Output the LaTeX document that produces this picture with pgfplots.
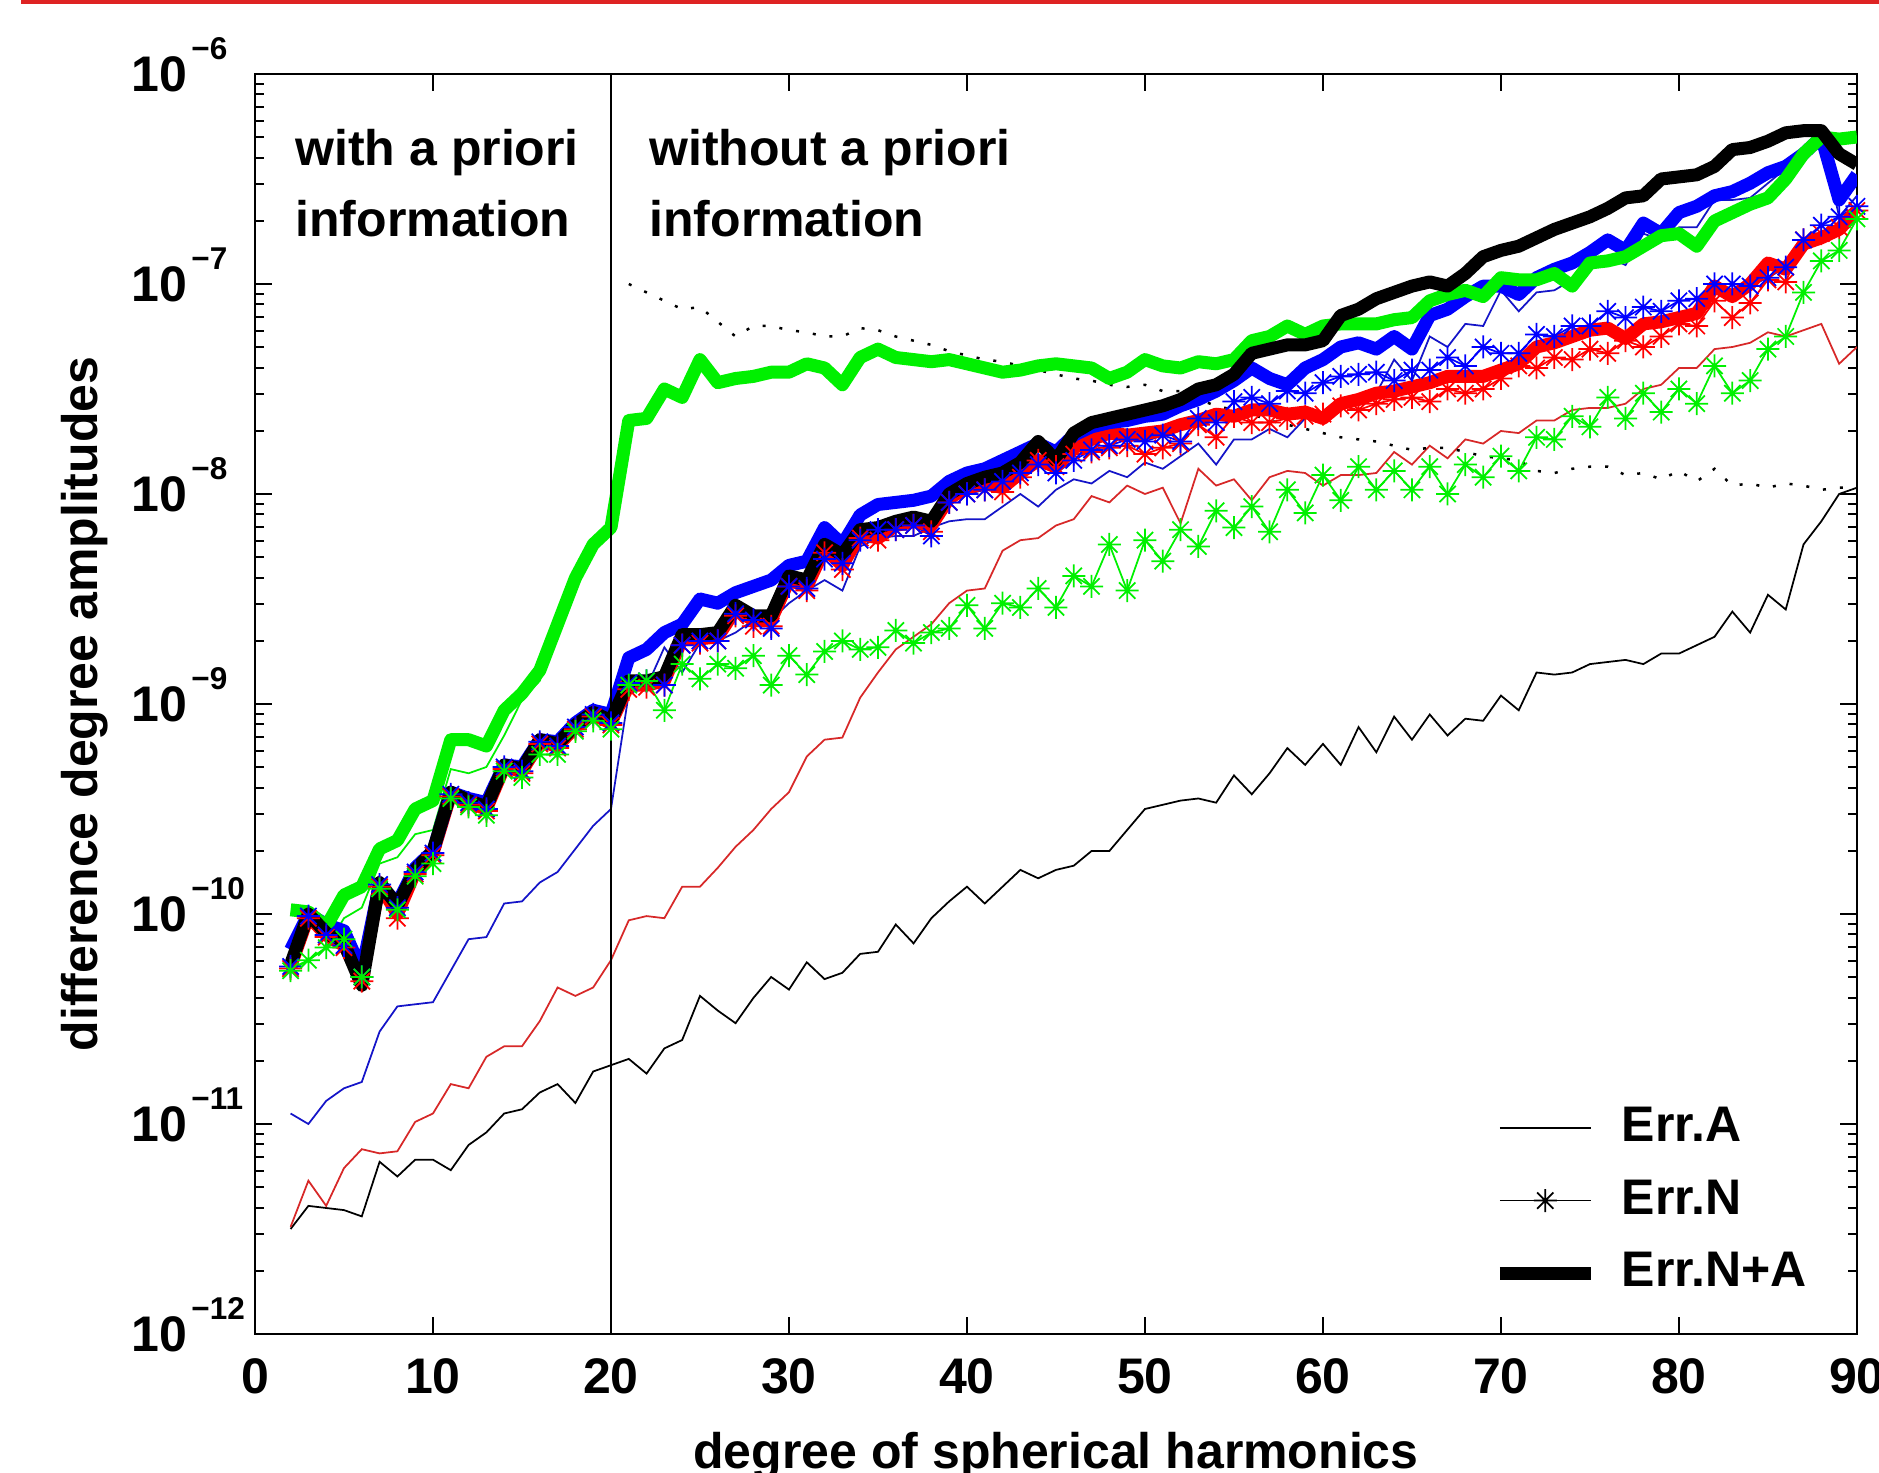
\documentclass[border=0pt]{standalone}
\usepackage{pgfplots}
\pgfplotsset{compat=1.18}
\usepackage{pgfplotstable}
\usepackage{fontspec}
\setmainfont{Liberation Sans}
\definecolor{mgreen}{RGB}{0,240,0}
\definecolor{mblue}{RGB}{0,0,255}
\definecolor{mred}{RGB}{255,0,0}
\definecolor{tred}{RGB}{215,40,40}
\definecolor{tblue}{RGB}{20,20,200}
\definecolor{topred}{RGB}{222,35,35}

\pgfdeclareplotmark{mstar}{%
  \pgfpathmoveto{\pgfqpoint{-\pgfplotmarksize}{0pt}}%
  \pgfpathlineto{\pgfqpoint{\pgfplotmarksize}{0pt}}%
  \pgfpathmoveto{\pgfqpoint{0pt}{-\pgfplotmarksize}}%
  \pgfpathlineto{\pgfqpoint{0pt}{\pgfplotmarksize}}%
  \pgfpathmoveto{\pgfqpoint{-0.7071\pgfplotmarksize}{-0.7071\pgfplotmarksize}}%
  \pgfpathlineto{\pgfqpoint{0.7071\pgfplotmarksize}{0.7071\pgfplotmarksize}}%
  \pgfpathmoveto{\pgfqpoint{-0.7071\pgfplotmarksize}{0.7071\pgfplotmarksize}}%
  \pgfpathlineto{\pgfqpoint{0.7071\pgfplotmarksize}{-0.7071\pgfplotmarksize}}%
  \pgfusepathqstroke
}

\newcommand{\ex}[1]{10\kern0.9pt\smash{\raisebox{6.3pt}{\makebox[10.7pt][l]{\fontsize{6.3}{7}\selectfont −#1}}}}

% values are log10 of the amplitudes
\pgfplotstableread{
x kA rA bA gA rN bN gN rNA bNA gNA kNA dot
2 -11.50 -11.49 -10.95 -10.26 -10.26 -10.25 -10.27 -10.25 -10.17 -9.98 -10.24 nan
3 -11.39 -11.27 -11.00 -10.22 -10.02 -10.01 -10.22 -10.01 -10.00 -9.99 -10.00 nan
4 -11.40 -11.39 -10.89 -10.16 -10.11 -10.10 -10.16 -10.10 -10.05 -10.06 -10.09 nan
5 -11.41 -11.21 -10.83 -10.02 -10.16 -10.15 -10.12 -10.15 -10.08 -9.91 -10.14 nan
6 -11.44 -11.12 -10.80 -9.97 -10.32 -10.30 -10.30 -10.30 -10.27 -9.87 -10.34 nan
7 -11.18 -11.14 -10.56 -9.76 -9.87 -9.86 -9.88 -9.86 -9.86 -9.69 -9.85 nan
8 -11.25 -11.13 -10.44 -9.73 -10.02 -9.97 -9.98 -10.00 -9.95 -9.65 -9.96 nan
9 -11.17 -10.99 -10.43 -9.62 -9.81 -9.80 -9.82 -9.80 -9.78 -9.50 -9.79 nan
10 -11.17 -10.95 -10.42 -9.60 -9.72 -9.71 -9.76 -9.71 -9.70 -9.46 -9.70 nan
11 -11.22 -10.81 -10.27 -9.31 -9.44 -9.43 -9.45 -9.43 -9.42 -9.17 -9.42 nan
12 -11.10 -10.83 -10.12 -9.33 -9.48 -9.47 -9.49 -9.47 -9.45 -9.17 -9.46 nan
13 -11.04 -10.68 -10.11 -9.30 -9.51 -9.50 -9.53 -9.50 -9.47 -9.20 -9.49 nan
14 -10.95 -10.63 -9.95 -9.15 -9.31 -9.30 -9.32 -9.30 -9.29 -9.03 -9.29 nan
15 -10.93 -10.63 -9.94 -8.98 -9.33 -9.32 -9.35 -9.32 -9.30 -8.95 -9.31 nan
16 -10.85 -10.51 -9.85 -8.89 -9.19 -9.18 -9.24 -9.18 -9.17 -8.84 -9.17 nan
17 -10.81 -10.35 -9.80 -8.66 -9.21 -9.20 -9.24 -9.20 -9.18 -8.62 -9.19 nan
18 -10.90 -10.39 -9.69 -8.43 -9.12 -9.11 -9.13 -9.11 -9.09 -8.40 -9.10 nan
19 -10.75 -10.35 -9.58 -8.26 -9.06 -9.05 -9.08 -9.05 -9.03 -8.24 -9.04 nan
20 -10.72 -10.22 -9.50 -8.18 -9.10 -9.09 -9.12 -9.09 -9.05 -8.16 -9.08 nan
21 -10.69 -10.03 -8.95 nan -8.93 -8.90 -8.91 -8.91 -8.78 -7.65 -8.89 -7.00
22 -10.76 -10.01 -8.92 nan -8.92 -8.89 -8.89 -8.91 -8.74 -7.64 -8.89 -7.04
23 -10.64 -10.02 -8.73 nan -8.91 -8.91 -9.03 -8.89 -8.66 -7.50 -8.87 -7.08
24 -10.60 -9.87 -8.85 nan -8.72 -8.72 -8.81 -8.69 -8.62 -7.54 -8.67 -7.12
25 -10.39 -9.87 -8.71 nan -8.71 -8.70 -8.88 -8.69 -8.50 -7.36 -8.67 -7.11
26 -10.46 -9.78 -8.70 nan -8.70 -8.70 -8.81 -8.68 -8.52 -7.47 -8.66 -7.18
27 -10.52 -9.68 -8.66 nan -8.58 -8.57 -8.83 -8.55 -8.47 -7.45 -8.53 -7.25
28 -10.40 -9.60 -8.60 nan -8.63 -8.60 -8.77 -8.60 -8.44 -7.44 -8.58 -7.20
29 -10.30 -9.50 -8.60 nan -8.63 -8.64 -8.91 -8.60 -8.41 -7.42 -8.58 -7.20
30 -10.36 -9.42 -8.52 nan -8.44 -8.44 -8.77 -8.41 -8.34 -7.42 -8.39 -7.22
31 -10.23 -9.25 -8.46 nan -8.46 -8.45 -8.86 -8.44 -8.32 -7.38 -8.41 -7.23
32 -10.31 -9.17 -8.41 nan -8.28 -8.31 -8.75 -8.26 -8.16 -7.40 -8.24 -7.25
33 -10.28 -9.16 -8.46 nan -8.36 -8.33 -8.70 -8.34 -8.24 -7.48 -8.29 -7.25
34 -10.19 -8.97 -8.25 nan -8.21 -8.22 -8.74 -8.19 -8.10 -7.35 -8.17 -7.21
35 -10.18 -8.85 -8.21 nan -8.22 -8.17 -8.73 -8.21 -8.05 -7.31 -8.16 -7.22
36 -10.05 -8.74 -8.20 nan -8.17 -8.17 -8.65 -8.15 -8.04 -7.35 -8.13 -7.25
37 -10.14 -8.68 -8.20 nan -8.15 -8.15 -8.71 -8.13 -8.03 -7.36 -8.11 -7.27
38 -10.02 -8.62 -8.16 nan -8.18 -8.20 -8.66 -8.15 -8.01 -7.37 -8.13 -7.29
39 -9.94 -8.52 -8.13 nan -8.04 -8.04 -8.64 -8.02 -7.94 -7.36 -8.00 -7.32
40 -9.87 -8.46 -8.12 nan -8.00 -8.00 -8.53 -7.97 -7.90 -7.38 -7.95 -7.34
41 -9.95 -8.45 -8.12 nan -7.98 -7.98 -8.64 -7.95 -7.88 -7.40 -7.92 -7.36
42 -9.87 -8.27 -8.06 nan -7.99 -7.94 -8.52 -7.97 -7.84 -7.42 -7.90 -7.37
43 -9.79 -8.22 -8.00 nan -7.92 -7.90 -8.54 -7.90 -7.80 -7.41 -7.85 -7.39
44 -9.83 -8.21 -8.06 nan -7.84 -7.86 -8.45 -7.84 -7.76 -7.39 -7.75 -7.41
45 -9.79 -8.15 -7.98 nan -7.87 -7.90 -8.54 -7.87 -7.80 -7.38 -7.84 -7.43
46 -9.77 -8.12 -7.93 nan -7.81 -7.84 -8.39 -7.78 -7.72 -7.39 -7.71 -7.45
47 -9.70 -8.01 -7.95 nan -7.80 -7.79 -8.44 -7.74 -7.68 -7.40 -7.66 -7.46
48 -9.70 -8.04 -7.89 nan -7.78 -7.77 -8.24 -7.71 -7.66 -7.45 -7.64 -7.48
49 -9.60 -7.96 -7.92 nan -7.77 -7.74 -8.46 -7.72 -7.65 -7.42 -7.62 -7.49
50 -9.50 -8.00 -7.85 nan -7.81 -7.75 -8.22 -7.71 -7.63 -7.36 -7.60 -7.48
51 -9.48 -7.97 -7.88 nan -7.78 -7.72 -8.32 -7.70 -7.62 -7.39 -7.58 -7.51
52 -9.46 -8.14 -7.82 nan -7.76 -7.75 -8.17 -7.67 -7.58 -7.40 -7.55 -7.51
53 -9.45 -7.88 -7.76 nan -7.67 -7.64 -8.25 -7.65 -7.55 -7.37 -7.50 -7.55
54 -9.47 -7.96 -7.86 nan -7.73 -7.66 -8.08 -7.62 -7.51 -7.38 -7.48 -7.58
55 -9.34 -7.93 -7.74 nan -7.63 -7.56 -8.16 -7.63 -7.46 -7.36 -7.43 -7.60
56 -9.43 -8.03 -7.74 nan -7.66 -7.54 -8.06 -7.60 -7.40 -7.27 -7.33 -7.62
57 -9.33 -7.92 -7.69 nan -7.66 -7.57 -8.18 -7.60 -7.45 -7.25 -7.31 -7.65
58 -9.21 -7.89 -7.73 nan -7.64 -7.51 -7.98 -7.62 -7.48 -7.20 -7.29 -7.67
59 -9.29 -7.90 -7.64 nan -7.63 -7.52 -8.09 -7.61 -7.40 -7.24 -7.29 -7.69
60 -9.19 -7.96 -7.62 nan -7.62 -7.47 -7.91 -7.64 -7.36 -7.20 -7.27 -7.71
61 -9.29 -7.91 -7.55 nan -7.58 -7.44 -8.03 -7.57 -7.30 -7.19 -7.15 -7.73
62 -9.11 -7.91 -7.56 nan -7.60 -7.43 -7.87 -7.55 -7.28 -7.19 -7.12 -7.74
63 -9.23 -7.90 -7.52 nan -7.57 -7.42 -7.98 -7.52 -7.31 -7.19 -7.07 -7.75
64 -9.06 -7.80 -7.36 nan -7.55 -7.46 -7.89 -7.51 -7.25 -7.17 -7.04 -7.77
65 -9.17 -7.86 -7.46 nan -7.54 -7.41 -7.98 -7.49 -7.31 -7.16 -7.01 -7.79
66 -9.05 -7.77 -7.25 nan -7.56 -7.41 -7.87 -7.47 -7.15 -7.08 -6.99 -7.78
67 -9.15 -7.83 -7.30 nan -7.50 -7.35 -8.00 -7.44 -7.12 -7.05 -7.01 -7.78
68 -9.07 -7.74 -7.19 nan -7.52 -7.39 -7.86 -7.44 -7.06 -7.03 -6.95 -7.80
69 -9.08 -7.76 -7.20 nan -7.50 -7.30 -7.92 -7.44 -7.01 -7.06 -6.87 -7.82
70 -8.96 -7.70 -7.03 nan -7.45 -7.33 -7.82 -7.41 -7.01 -6.97 -6.84 -7.83
71 -9.03 -7.71 -7.13 nan -7.39 -7.33 -7.89 -7.38 -7.05 -6.98 -6.82 -7.84
72 -8.85 -7.65 -7.04 nan -7.40 -7.24 -7.73 -7.30 -6.97 -6.98 -6.78 -7.89
73 -8.86 -7.65 -7.03 nan -7.35 -7.25 -7.74 -7.28 -6.93 -6.95 -6.74 -7.90
74 -8.85 -7.60 -6.98 nan -7.36 -7.20 -7.63 -7.25 -6.90 -7.01 -6.71 -7.88
75 -8.81 -7.59 -6.92 nan -7.31 -7.20 -7.68 -7.22 -6.85 -6.90 -6.68 -7.87
76 -8.80 -7.59 -6.87 nan -7.33 -7.13 -7.54 -7.21 -6.79 -6.89 -6.64 -7.87
77 -8.79 -7.57 -6.91 nan -7.27 -7.16 -7.64 -7.26 -6.84 -6.87 -6.59 -7.91
78 -8.81 -7.50 -6.76 nan -7.30 -7.11 -7.52 -7.19 -6.71 -6.82 -6.58 -7.90
79 -8.76 -7.48 -6.79 nan -7.25 -7.13 -7.61 -7.18 -6.76 -6.77 -6.50 -7.93
80 -8.76 -7.40 -6.73 nan -7.19 -7.08 -7.50 -7.16 -6.66 -6.76 -6.49 -7.89
81 -8.72 -7.40 -6.73 nan -7.20 -7.07 -7.57 -7.14 -6.63 -6.82 -6.48 -7.94
82 -8.68 -7.31 -6.60 nan -7.08 -7.00 -7.39 -7.01 -6.58 -6.70 -6.44 -7.88
83 -8.56 -7.30 -6.60 nan -7.16 -7.00 -7.52 -7.06 -6.56 -6.66 -6.36 -7.96
84 -8.66 -7.28 -6.59 nan -7.09 -7.01 -7.46 -7.00 -6.52 -6.62 -6.35 -7.95
85 -8.48 -7.23 -6.52 nan -6.98 -6.97 -7.31 -6.90 -6.47 -6.59 -6.32 -7.97
86 -8.55 -7.25 -6.45 nan -6.99 -6.92 -7.25 -6.93 -6.44 -6.50 -6.28 -7.95
87 -8.24 -7.22 -6.38 nan -6.79 -6.79 -7.04 -6.81 -6.38 -6.38 -6.27 -7.96
88 -8.13 -7.19 -6.30 nan -6.76 -6.72 -6.89 -6.78 -6.30 -6.30 -6.27 -7.98
89 -8.00 -7.38 -6.68 nan -6.73 -6.68 -6.84 -6.74 -6.60 -6.31 -6.38 -7.97
90 -7.97 -7.30 -6.58 nan -6.65 -6.63 -6.69 -6.65 -6.48 -6.30 -6.43 -7.97
}\data

\begin{document}
\begin{tikzpicture}
\path[use as bounding box] (-51pt,-27.8pt) rectangle (324.8pt,266.8pt);
\fill[topred] (-46.8pt,266.0pt) rectangle (324.8pt,266.8pt);
\begin{axis}[
  at={(0,0)}, anchor=south west,
  scale only axis, width=320.4pt, height=252pt,
  xmin=0, xmax=90, ymin=-12, ymax=-6,
  xtick={0,10,...,90}, xticklabels={0,10,20,30,40,50,60,70,80,90},
  ytick={-12,-11,-10,-9,-8,-7,-6},
  yticklabels={\ex{12},\ex{11},\ex{10},\ex{9},\ex{8},\ex{7},\ex{6}},
  minor ytick={-11.69897,-11.52288,-11.39794,-11.30103,-11.22185,-11.15490,-11.09691,-11.04576,
    -10.69897,-10.52288,-10.39794,-10.30103,-10.22185,-10.15490,-10.09691,-10.04576,
    -9.69897,-9.52288,-9.39794,-9.30103,-9.22185,-9.15490,-9.09691,-9.04576,
    -8.69897,-8.52288,-8.39794,-8.30103,-8.22185,-8.15490,-8.09691,-8.04576,
    -7.69897,-7.52288,-7.39794,-7.30103,-7.22185,-7.15490,-7.09691,-7.04576,
    -6.69897,-6.52288,-6.39794,-6.30103,-6.22185,-6.15490,-6.09691,-6.04576},
  tick align=inside,
  major tick length=3.4pt, minor tick length=1.8pt,
  every tick/.style={black, line width=0.4pt},
  axis line style={line width=0.4pt},
  tick label style={font=\fontsize{10}{12}\selectfont\bfseries},
  xticklabel style={yshift=-1.3pt},
  yticklabel style={anchor=east, inner sep=0pt, xshift=-1.8pt},
  xlabel={degree of spherical harmonics},
  ylabel={difference degree amplitudes},
  label style={font=\fontsize{10}{12}\selectfont\bfseries},
  xlabel style={at={(axis description cs:0.5,-0.107)}, anchor=base},
  ylabel style={at={(axis description cs:-0.098,0.5)}, anchor=base},
  legend style={draw=none, fill=none, at={(axis description cs:0.763,0.197)}, anchor=north west,
    font=\fontsize{10}{12}\selectfont\bfseries, row sep=2.2pt},
  legend cell align=left,
  legend image code/.code={\draw[mark repeat=2,mark phase=2,#1] plot coordinates {(0pt,0pt) (9.1pt,0pt) (18.2pt,0pt)}; \path (21.1pt,0pt);},
  unbounded coords=jump,
]
% Err.A (thin)
\addplot[black, line width=0.35pt, forget plot] table[x=x,y=kA]{\data};
\addplot[tred, line width=0.35pt, forget plot] table[x=x,y=rA]{\data};
\addplot[tblue, line width=0.35pt, forget plot] table[x=x,y=bA]{\data};
\addplot[mgreen, line width=0.35pt, forget plot] table[x=x,y=gA]{\data};
% dotted reference
\addplot[black, line width=0.5pt, dash pattern=on 0.6pt off 2.8pt, forget plot] table[x=x,y=dot]{\data};
% Err.N (stars)
\addplot[mred, line width=0.35pt, mark=mstar, mark size=2.3pt, forget plot] table[x=x,y=rN]{\data};
\addplot[mblue, line width=0.35pt, mark=mstar, mark size=2.3pt, forget plot] table[x=x,y=bN]{\data};
\addplot[mgreen, line width=0.35pt, mark=mstar, mark size=2.3pt, forget plot] table[x=x,y=gN]{\data};
% Err.N+A (thick)
\addplot[mred, line width=2.6pt, line join=round, forget plot] table[x=x,y=rNA]{\data};
\addplot[mblue, line width=2.6pt, line join=round, forget plot] table[x=x,y=bNA]{\data};
\addplot[mgreen, line width=2.6pt, line join=round, forget plot] table[x=x,y=gNA]{\data};
\addplot[black, line width=2.6pt, line join=round, forget plot] table[x=x,y=kNA]{\data};
% divider
\addplot[black, line width=0.4pt, forget plot] coordinates {(20,-12) (20,-6)};

\addlegendimage{black, line width=0.35pt}
\addlegendentry{Err.A}
\addlegendimage{black, line width=0.35pt, mark=mstar, mark size=2.3pt}
\addlegendentry{Err.N}
\addlegendimage{black, line width=2.6pt}
\addlegendentry{Err.N+A}

\node[anchor=base west, inner sep=0pt, font=\fontsize{10}{12}\selectfont\bfseries] at (axis cs:2.22,-6.437) {with a priori};
\node[anchor=base west, inner sep=0pt, font=\fontsize{10}{12}\selectfont\bfseries] at (axis cs:2.22,-6.776) {information};
\node[anchor=base west, inner sep=0pt, font=\fontsize{10}{12}\selectfont\bfseries] at (axis cs:22.1,-6.437) {without a priori};
\node[anchor=base west, inner sep=0pt, font=\fontsize{10}{12}\selectfont\bfseries] at (axis cs:22.1,-6.776) {information};
\end{axis}
\end{tikzpicture}
\end{document}
